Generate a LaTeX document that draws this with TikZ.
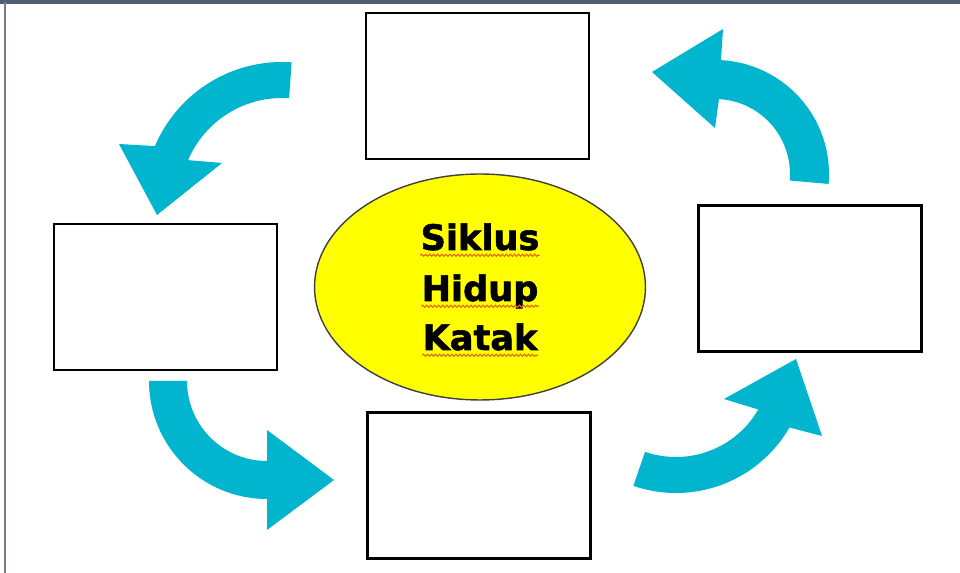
\documentclass[tikz,border=0pt]{standalone}
\usepackage{fontspec}
\usepackage{xcolor}
\usetikzlibrary{shapes.geometric, decorations.pathmorphing, positioning}
\newfontfamily\judulfont{DejaVu Sans}[BoldFeatures={FakeBold=1.6}]
\definecolor{biru}{RGB}{0,181,205}
\definecolor{kuning}{RGB}{255,255,0}
\definecolor{bingkai}{RGB}{80,94,112}
\definecolor{garismerah}{RGB}{230,100,20}
\tikzset{
  kotak/.style={draw=black, line width=1.4pt, fill=white, minimum width=4.46cm, minimum height=2.92cm, inner sep=0pt},
  lingkaran/.style={ellipse, draw=black!75, line width=0.8pt, fill=kuning, minimum width=6.62cm, minimum height=4.52cm, inner sep=0pt},
  kata/.style={font=\judulfont\bfseries\fontsize{20}{24}\selectfont, inner sep=0pt, anchor=base},
  gelombang/.style={draw=garismerah, line width=0.6pt, decorate, decoration={snake, segment length=2.3pt, amplitude=0.6pt}},
  panah/.style={fill=biru}
}

\begin{document}
\begin{tikzpicture}[x=0.02cm, y=-0.02cm]
    \useasboundingbox (0,0) rectangle (960,573);
    \fill[white] (0,0) rectangle (960,573);
    % bingkai halaman
    \draw[bingkai, line width=1.8pt] (0,2) -- (960,2);
    \draw[bingkai!80, line width=1.3pt] (5,2) -- (5,573);

    % kotak tahapan
    \node[kotak] (kotakAtas) at (477.5,86) {};
    \node[kotak] (kotakKiri) at (165.5,297) {};
    \node[kotak] (kotakBawah) at (479,485.5) {};
    \node[kotak] (kotakKanan) at (810,278.5) {};

    % judul di tengah
    \node[lingkaran] (pusat) at (480,287) {};
    \node[kata] (kataSiklus) at (480,250) {Siklus};
    \node[kata] (kataHidup) at (480,301) {Hidup};
    \node[kata] (kataKatak) at (480,350) {Katak};
    \foreach \k in {kataSiklus, kataHidup, kataKatak}
        \draw[gelombang] ([yshift=-3pt]\k.base west) -- ([yshift=-3pt]\k.base east);

    % panah siklus
    \fill[panah, shift={(282,200)}] (-86:138) arc[start angle=-86, end angle=-157, radius=138]
        -- (-163,-56) -- (-125,15) -- (-60,-37)
        -- (-157:102) arc[start angle=-157, end angle=-86, radius=102] -- cycle;
    \fill[panah, shift={(267,381)}] (180:118) arc[start angle=180, end angle=90, radius=118]
        -- (0,149) -- (67,99) -- (0,49)
        -- (90:80) arc[start angle=90, end angle=180, radius=80] -- cycle;
    \fill[panah, shift={(676,362)}] (109:131) arc[start angle=109, end angle=30, radius=131]
        -- (146,74) -- (120,-3) -- (48,37)
        -- (30:95) arc[start angle=30, end angle=109, radius=95] -- cycle;
    \fill[panah, shift={(715,174)}] (5:114) arc[start angle=5, end angle=-87, radius=114]
        -- (8,-145) -- (-63,-102) -- (0,-46)
        -- (-87:75) arc[start angle=-87, end angle=5, radius=75] -- cycle;
\end{tikzpicture}
\end{document}
